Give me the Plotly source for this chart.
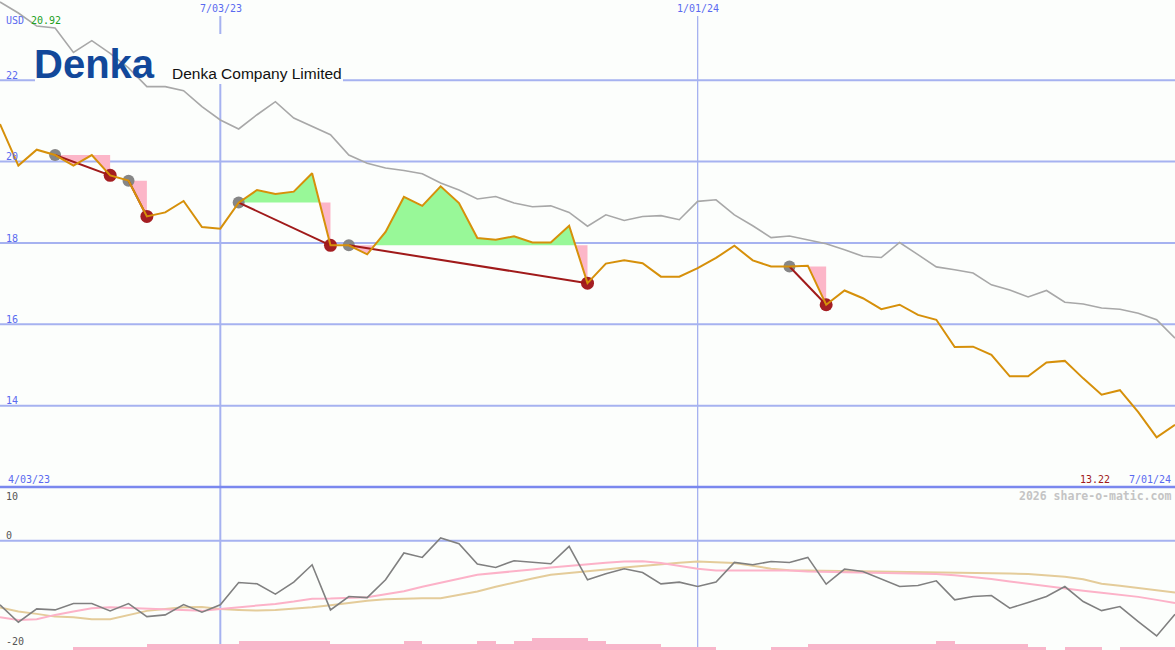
import pandas as pd
import plotly.graph_objects as go

# ---------------- data ----------------
start_date = "2023-04-10"
n_weeks = 65
dates = pd.date_range(start_date, periods=n_weeks, freq="7D")

price = [20.92, 19.90, 20.29, 20.16, 19.90, 20.16, 19.66, 19.53, 18.65, 18.75,
         19.03, 18.39, 18.35, 18.99, 19.30, 19.20, 19.26, 19.71, 17.94, 17.94,
         17.72, 18.27, 19.13, 18.91, 19.39, 18.98, 18.12, 18.08, 18.16, 18.01,
         18.01, 18.42, 17.01, 17.49, 17.57, 17.50, 17.17, 17.17, 17.38, 17.63,
         17.93, 17.57, 17.42, 17.42, 17.44, 16.48, 16.83, 16.64, 16.37, 16.48,
         16.23, 16.11, 15.44, 15.45, 15.25, 14.72, 14.72, 15.06, 15.10, 14.67,
         14.27, 14.38, 13.84, 13.22, 13.53]

relative = [23.92, 23.65, 23.33, 23.28, 22.68, 22.97, 22.66, 22.30, 21.84, 21.84,
            21.74, 21.35, 21.02, 20.80, 21.15, 21.47, 21.07, 20.86, 20.66, 20.16,
            19.96, 19.84, 19.78, 19.70, 19.47, 19.30, 19.08, 19.14, 18.98, 18.89,
            18.91, 18.75, 18.41, 18.69, 18.55, 18.65, 18.67, 18.57, 19.02, 19.06,
            18.69, 18.42, 18.13, 18.17, 18.08, 17.98, 17.83, 17.67, 17.64, 18.01,
            17.71, 17.41, 17.34, 17.26, 16.97, 16.84, 16.67, 16.83, 16.54, 16.50,
            16.40, 16.37, 16.27, 16.11, 15.66]

oscillator = [-11.96, -15.20, -12.71, -12.90, -11.72, -11.72, -13.08, -11.72, -14.15, -13.83,
              -11.91, -13.33, -11.96, -7.79, -8.04, -9.96, -7.72, -4.49, -12.90, -10.41,
              -10.60, -7.29, -2.30, -3.12, 0.50, -0.56, -4.36, -4.99, -3.74, -4.06,
              -4.30, -1.07, -7.29, -6.17, -5.23, -5.93, -8.04, -7.72, -8.54, -7.72,
              -4.06, -4.49, -3.87, -4.06, -3.12, -8.09, -5.29, -5.74, -7.16, -8.54,
              -8.36, -7.48, -11.03, -10.41, -10.22, -12.58, -11.53, -10.41, -8.54, -11.35,
              -13.03, -12.28, -15.08, -17.76, -13.70]

osc_fast = [-14.26, -14.77, -14.64, -13.83, -13.21, -12.58, -12.39, -12.52, -12.65, -12.84,
            -13.03, -13.08, -12.71, -12.43, -12.15, -11.78, -11.35, -10.84, -10.79, -10.71,
            -10.52, -10.00, -9.44, -8.60, -7.79, -7.10, -6.36, -6.07, -5.74, -5.36,
            -4.99, -4.67, -4.36, -4.11, -3.87, -3.85, -4.17, -4.67, -5.23, -5.55,
            -5.55, -5.55, -5.55, -5.55, -5.74, -5.79, -5.89, -5.98, -6.04, -6.07,
            -6.13, -6.21, -6.45, -6.77, -7.16, -7.61, -8.07, -8.50, -8.97, -9.35,
            -9.72, -10.09, -10.47, -11.03, -11.64]

osc_slow = [-12.47, -13.21, -13.64, -14.15, -14.26, -14.64, -14.64, -13.83, -13.08, -12.71,
            -12.39, -12.34, -12.71, -12.90, -13.03, -12.90, -12.71, -12.39, -12.02, -11.59,
            -11.21, -10.93, -10.79, -10.75, -10.71, -10.09, -9.48, -8.60, -7.79, -7.05,
            -6.36, -6.07, -5.74, -5.36, -4.99, -4.67, -4.36, -4.11, -3.87, -4.02,
            -4.17, -4.67, -5.23, -5.51, -5.55, -5.61, -5.66, -5.70, -5.74, -5.79,
            -5.87, -5.94, -6.00, -6.04, -6.07, -6.13, -6.21, -6.45, -6.73, -7.20,
            -8.04, -8.41, -8.79, -9.21, -9.66]

signal_bars = [0, 0, 0, 0, 1, 1, 1, 1, 2, 2, 2, 2, 2, 3, 3, 3, 3, 3, 2, 2,
               2, 2, 3, 2, 2, 2, 3, 2, 3, 4, 4, 4, 3, 2, 2, 2, 1, 1, 1, 0,
               0, 0, 1, 1, 2, 2, 2, 2, 2, 2, 2, 3, 2, 2, 2, 2, 1, 0, 1, 1,
               0, 1, 1, 1, 0]

# (start index = grey dot, end index = red dot)
episodes = [(3, 6), (7, 8), (13, 18), (19, 32), (43, 45)]

price_ticks = [22, 20, 18, 16, 14]
osc_ticks = [10, 0, -20]
date_marks = ["2023-07-03", "2024-01-01"]
date_mark_labels = ["7/03/23", "1/01/24"]
first_label, last_label = "4/03/23", "7/01/24"
high_label, low_label = "20.92", "13.22"
company = "Denka Company Limited"
logo_text = "Denka"
credit = "2026 share-o-matic.com"

# ---------------- style ----------------
W, H = 1175, 650
BG = "#fcfefc"
GRID = "#a6b2f0"
BORDER = "#7a88ee"
LBL = "#5a6af0"
MONO = "DejaVu Sans Mono"
ORANGE = "#d6900a"
PINK_FILL = "#fcb6c8"
GREEN_FILL = "#98f898"
RED = "#a41e22"
main_range = [12, 23.97]
low_range = [-20.37, 10]
split = (H - 487) / H

week = pd.Timedelta(days=7)


def tdate(t):
    return dates[0] + week * t


fig = go.Figure()

# pink/green episode fills
for s, e in episodes:
    L = price[s]
    xs, ys = [], []
    for i in range(s, e):
        xs.append(float(i)); ys.append(price[i])
        a, b = price[i] - L, price[i + 1] - L
        if a * b < 0:
            xs.append(i + (L - price[i]) / (price[i + 1] - price[i])); ys.append(L)
    xs.append(float(e)); ys.append(price[e])
    xd = [tdate(t) for t in xs]
    lower = [min(v, L) for v in ys]
    upper = [max(v, L) for v in ys]
    for arr, col in ((lower, PINK_FILL), (upper, GREEN_FILL)):
        fig.add_trace(go.Scatter(x=xd, y=[L] * len(xd), mode="lines",
                                 line=dict(width=0), hoverinfo="skip", showlegend=False))
        fig.add_trace(go.Scatter(x=xd, y=arr, mode="lines", line=dict(width=0),
                                 fill="tonexty", fillcolor=col, hoverinfo="skip",
                                 showlegend=False))

# relative (grey) line
fig.add_trace(go.Scatter(x=dates, y=relative, mode="lines",
                         line=dict(color="#a8a8a8", width=1.6), showlegend=False))

# dots
gx = [dates[s] for s, e in episodes]
gy = [price[s] for s, e in episodes]
rx = [dates[e] for s, e in episodes]
ry = [price[e] for s, e in episodes]
fig.add_trace(go.Scatter(x=gx, y=gy, mode="markers",
                         marker=dict(color="#868686", size=12), showlegend=False))
fig.add_trace(go.Scatter(x=rx, y=ry, mode="markers",
                         marker=dict(color=RED, size=13), showlegend=False))

# dark red connectors
for s, e in episodes:
    fig.add_trace(go.Scatter(x=[dates[s], dates[e]], y=[price[s], price[e]], mode="lines",
                             line=dict(color="#a01a1a", width=2), showlegend=False))

# price line
fig.add_trace(go.Scatter(x=dates, y=price, mode="lines",
                         line=dict(color=ORANGE, width=2), showlegend=False))

# lower panel
fig.add_trace(go.Bar(x=dates, y=signal_bars, yaxis="y3", width=[7 * 24 * 3600 * 1000] * n_weeks,
                     offset=0, marker=dict(color="#f8b6ca", line=dict(width=0)),
                     showlegend=False))
fig.add_trace(go.Scatter(x=dates, y=osc_slow, yaxis="y2", mode="lines",
                         line=dict(color="#e4cc9a", width=2), showlegend=False))
fig.add_trace(go.Scatter(x=dates, y=osc_fast, yaxis="y2", mode="lines",
                         line=dict(color="#fcb2c8", width=2), showlegend=False))
fig.add_trace(go.Scatter(x=dates, y=oscillator, yaxis="y2", mode="lines",
                         line=dict(color="#808080", width=1.6), showlegend=False))

# ---------------- shapes ----------------
shapes = []
for v in price_ticks:
    shapes.append(dict(type="line", xref="paper", yref="y", x0=0, x1=1, y0=v, y1=v,
                       line=dict(color=GRID, width=2), layer="below"))
shapes.append(dict(type="line", xref="paper", yref="y2", x0=0, x1=1, y0=0, y1=0,
                   line=dict(color=GRID, width=2), layer="below"))
for d, w in zip(date_marks, [2, 1.3]):
    shapes.append(dict(type="line", xref="x", yref="paper", x0=d, x1=d, y0=0, y1=1 - 16 / H,
                       line=dict(color=GRID, width=w), layer="below"))
shapes.append(dict(type="line", xref="paper", yref="paper", x0=0, x1=1, y0=split, y1=split,
                   line=dict(color=BORDER, width=2.5), layer="below"))
# title box behind logo
shapes.append(dict(type="rect", xref="paper", yref="paper", x0=35 / W, x1=343 / W,
                   y0=1 - 84 / H, y1=1 - 34 / H, fillcolor=BG, line=dict(width=0), layer="below"))

# ---------------- annotations ----------------
ann = []


def add_text(text, x, y, color, size=10, xanchor="left", family=MONO, bold=False):
    t = "<b>%s</b>" % text if bold else text
    ann.append(dict(text=t, x=x / W, y=1 - y / H, xref="paper", yref="paper",
                    xanchor=xanchor, yanchor="middle", showarrow=False,
                    font=dict(family=family, size=size, color=color)))


add_text("USD", 4, 21, LBL)
add_text(high_label, 29, 21, "#22a022")
for lab, d in zip(date_mark_labels, [221, 698]):
    add_text(lab, d, 8, LBL, xanchor="center")
tick_px = {22: 75, 20: 156, 18: 238, 16: 319, 14: 400}
for v in price_ticks:
    add_text(str(v), 4, tick_px[v], LBL)
add_text(first_label, 6, 479, LBL)
add_text(last_label, 1173, 479, LBL, xanchor="right")
add_text(low_label, 1112, 479, "#a01a1a", xanchor="right")
add_text(credit, 1173, 496, "#c4c4c4", size=11.5, xanchor="right", bold=True)
osc_px = {10: 496, 0: 535, -20: 641}
for v in osc_ticks:
    add_text(str(v), 4, osc_px[v], "#555555")
add_text(logo_text, 32, 64, "#12489a", size=40, family="Liberation Sans", bold=True)
add_text(company, 170, 73, "#111111", size=15.5, family="Liberation Sans")

fig.update_layout(
    width=W, height=H, margin=dict(l=0, r=0, t=0, b=0),
    paper_bgcolor=BG, plot_bgcolor=BG, showlegend=False,
    xaxis=dict(type="date", range=[dates[0], dates[-1]], visible=False, showgrid=False),
    yaxis=dict(domain=[split, 1], range=main_range, visible=False, showgrid=False),
    yaxis2=dict(domain=[0, split], range=low_range, visible=False, showgrid=False, anchor="x"),
    yaxis3=dict(overlaying="y2", range=[0, 163 / 3], visible=False, showgrid=False, anchor="x"),
    shapes=shapes, annotations=ann, bargap=0,
)

fig.write_html("out.html", config={"displayModeBar": False},
               post_script="document.body.style.margin='0';document.body.style.background='%s';" % BG)
